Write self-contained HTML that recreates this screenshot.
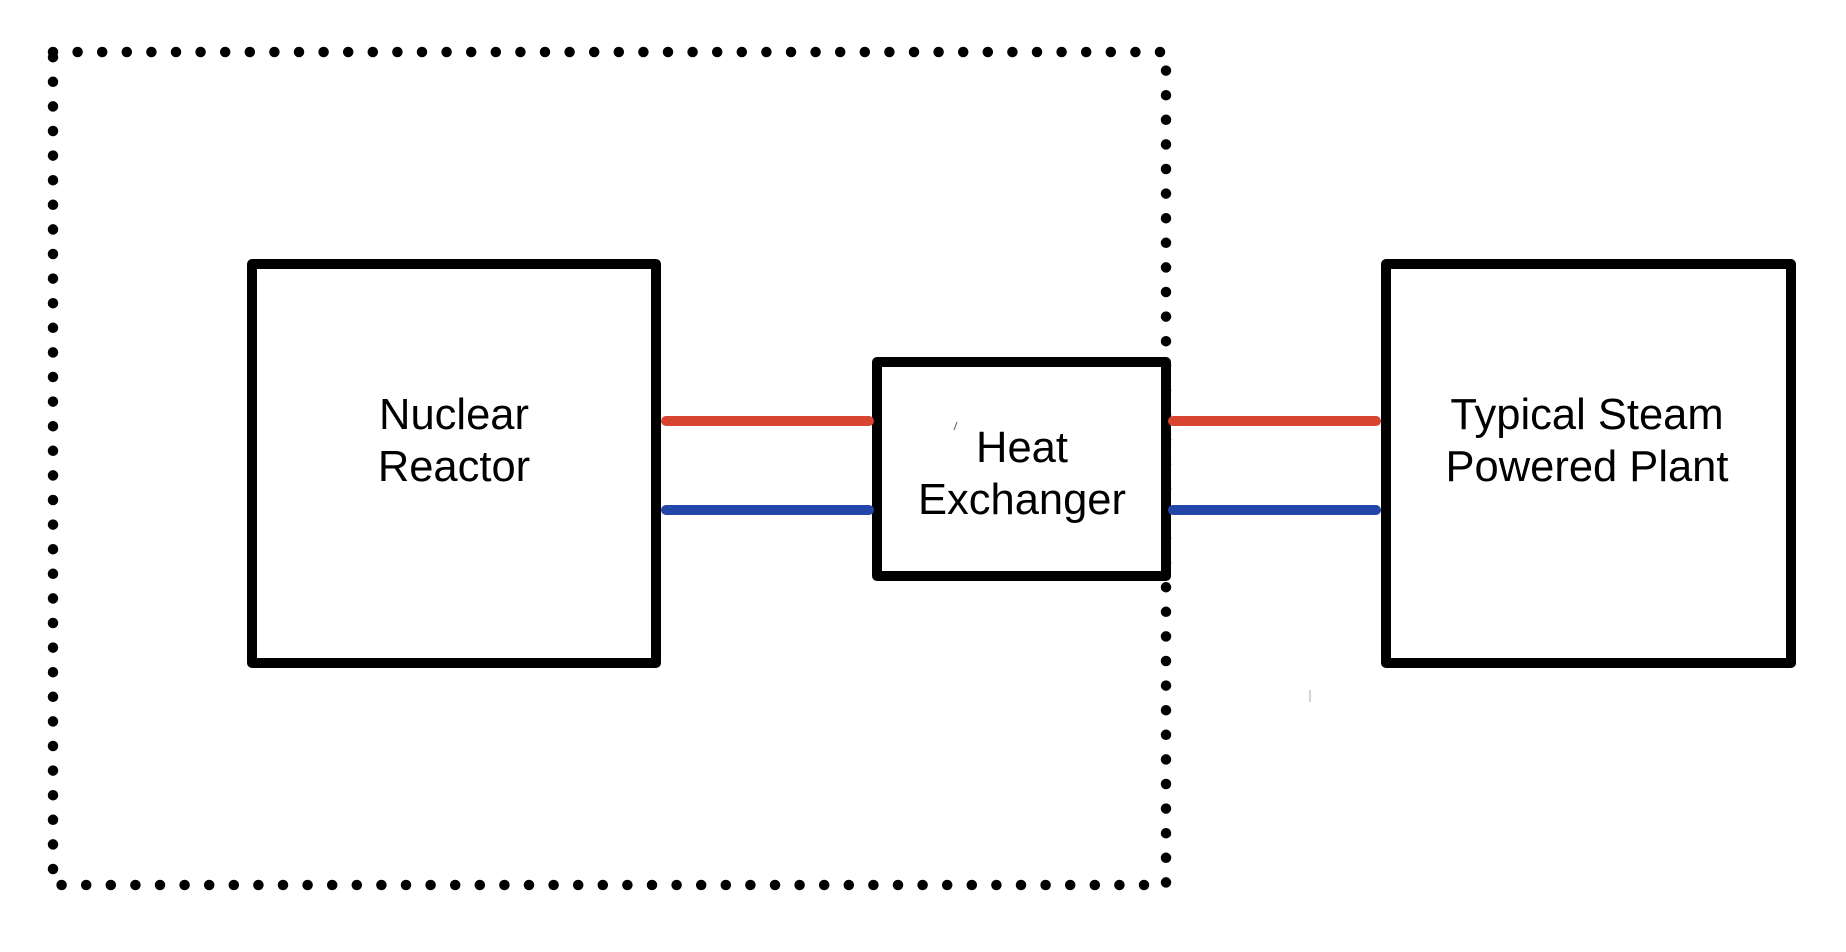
<!DOCTYPE html>
<html><head><style>html,body{margin:0;padding:0;background:#fff}</style></head>
<body>
<svg width="1846" height="952" xmlns="http://www.w3.org/2000/svg" style="display:block">
<rect width="1846" height="952" fill="#fff"/>
<rect x="53" y="52" width="1113" height="833" fill="none" stroke="#000" stroke-width="10.5" stroke-linecap="round" stroke-dasharray="0 24.6"/>
<rect x="252" y="264" width="404" height="399" fill="#fff" stroke="#000" stroke-width="10" stroke-linejoin="round"/>
<rect x="877" y="362" width="289" height="214" fill="#fff" stroke="#000" stroke-width="10" stroke-linejoin="round"/>
<rect x="1386" y="264" width="405" height="399" fill="#fff" stroke="#000" stroke-width="10" stroke-linejoin="round"/>
<g stroke-width="10" stroke-linecap="round">
<line x1="666" y1="421" x2="869" y2="421" stroke="#d94431"/>
<line x1="1173" y1="421" x2="1376" y2="421" stroke="#d94431"/>
<line x1="666" y1="510" x2="869" y2="510" stroke="#2446a8"/>
<line x1="1173" y1="510" x2="1376" y2="510" stroke="#2446a8"/>
</g>
<line x1="954" y1="430" x2="957" y2="422" stroke="#555" stroke-width="1"/>
<line x1="1310" y1="690" x2="1310" y2="702" stroke="#aaa" stroke-width="1"/>
<g font-family="Liberation Sans, sans-serif" font-size="43.5" text-anchor="middle" fill="#000">
<text x="454" y="429">Nuclear</text>
<text x="454" y="481">Reactor</text>
<text x="1022" y="462">Heat</text>
<text x="1022" y="514">Exchanger</text>
<text x="1587" y="429">Typical Steam</text>
<text x="1587" y="481">Powered Plant</text>
</g>
</svg>
</body></html>
